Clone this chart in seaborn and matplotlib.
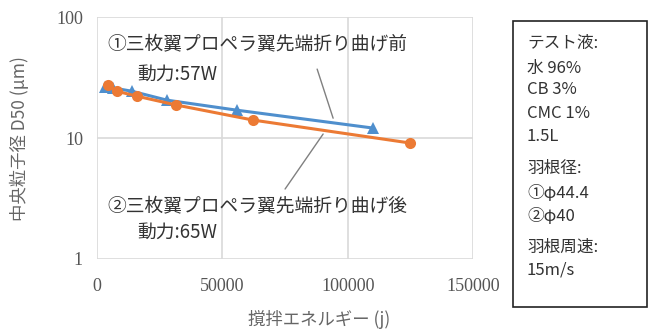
import matplotlib
matplotlib.use("Agg")
import matplotlib.pyplot as plt
from matplotlib.patches import Rectangle
import seaborn as sns
import pandas as pd

# Stirring energy (J) vs. median particle size D50 (um)
energy_before = [3200, 6400, 14000, 27900, 55900, 110100]
d50_before = [26.4, 26.0, 24.4, 20.6, 17.0, 12.1]
energy_after = [4400, 8000, 16000, 31500, 62200, 124900]
d50_after = [27.4, 24.4, 22.2, 18.8, 14.1, 9.1]

label_before = "①三枚翼プロペラ翼先端折り曲げ前"
label_after = "②三枚翼プロペラ翼先端折り曲げ後"
power_before = "動力:57W"
power_after = "動力:65W"

x_ticks = [0, 50000, 100000, 150000]
y_ticks = [1, 10, 100]

info_lines = ["テスト液:", "水 96%", "CB 3%", "CMC 1%", "1.5L",
              "羽根径:", "①φ44.4", "②φ40", "羽根周速:", "15m/s"]

sns.set_theme(style="white")
plt.rcParams["font.family"] = ["Noto Sans CJK JP", "DejaVu Sans"]

df = pd.concat([
    pd.DataFrame({"energy": energy_before, "d50": d50_before, "series": label_before}),
    pd.DataFrame({"energy": energy_after, "d50": d50_after, "series": label_after}),
])

blue = "#4f8fcd"
orange = "#ec7a34"

fig = plt.figure(figsize=(6.5, 3.29), dpi=100)
ax = fig.add_axes([0.149, 0.2128, 0.579, 0.735])

sns.lineplot(data=df, x="energy", y="d50", hue="series", style="series",
             palette={label_before: blue, label_after: orange},
             markers={label_before: "^", label_after: "o"},
             dashes=False, markersize=8, linewidth=2.2,
             markeredgewidth=0, legend=False, sort=False, ax=ax)

ax.set_yscale("log")
ax.set_xlim(0, 150000)
ax.set_ylim(1, 100)
ax.set_xticks(x_ticks)
ax.set_yticks(y_ticks)
ax.minorticks_off()
ax.set_xticklabels([str(v) for v in x_ticks])
ax.set_yticklabels([str(v) for v in y_ticks])
ax.tick_params(axis="y", length=0, pad=10, labelsize=13, labelcolor="#555555")
ax.tick_params(axis="x", length=0, pad=14, labelsize=13, labelcolor="#555555")
for lab in ax.get_xticklabels() + ax.get_yticklabels():
    lab.set_family("Liberation Serif")

ax.grid(True, color="#d9d9d9", linewidth=1.2)
for s in ax.spines.values():
    s.set_visible(False)

xl = ax.set_xlabel("撹拌エネルギー (j)", fontsize=12.5, color="#666666")
xl.set_va("center")
ax.xaxis.set_label_coords(0.59, -0.25)
yl = ax.set_ylabel("中央粒子径 D50 (μm)", fontsize=12.5, color="#666666")
yl.set_va("center")
ax.yaxis.set_label_coords(-0.205, 0.5)

# series annotations
txt_kw = dict(fontsize=13.5, color="#333333", va="center", ha="left")
ax.text(4000, 59.8, label_before, **txt_kw)
ax.text(16000, 33.8, power_before, **txt_kw)
ax.text(4000, 2.74, label_after, **txt_kw)
ax.text(16000, 1.67, power_after, **txt_kw)

line_kw = dict(arrowprops=dict(arrowstyle="-", color="#808080", lw=1.0,
                               shrinkA=0, shrinkB=0))
ax.annotate("", xy=(94170, 14.6), xytext=(87800, 37.2), **line_kw)
ax.annotate("", xy=(90180, 10.8), xytext=(75020, 3.79), **line_kw)

# conditions box
fig.patches.append(Rectangle((513 / 650, 22 / 329), 134 / 650, 286 / 329,
                             transform=fig.transFigure, fill=False,
                             edgecolor="#222222", linewidth=1.2))
y_px = [43, 68, 90, 113, 137, 168, 193, 216, 247, 270]
for line, yp in zip(info_lines, y_px):
    fig.text(527 / 650, 1 - yp / 329, line, fontsize=12, color="#333333",
             va="center", ha="left")

fig.savefig("out.png", dpi=100)
